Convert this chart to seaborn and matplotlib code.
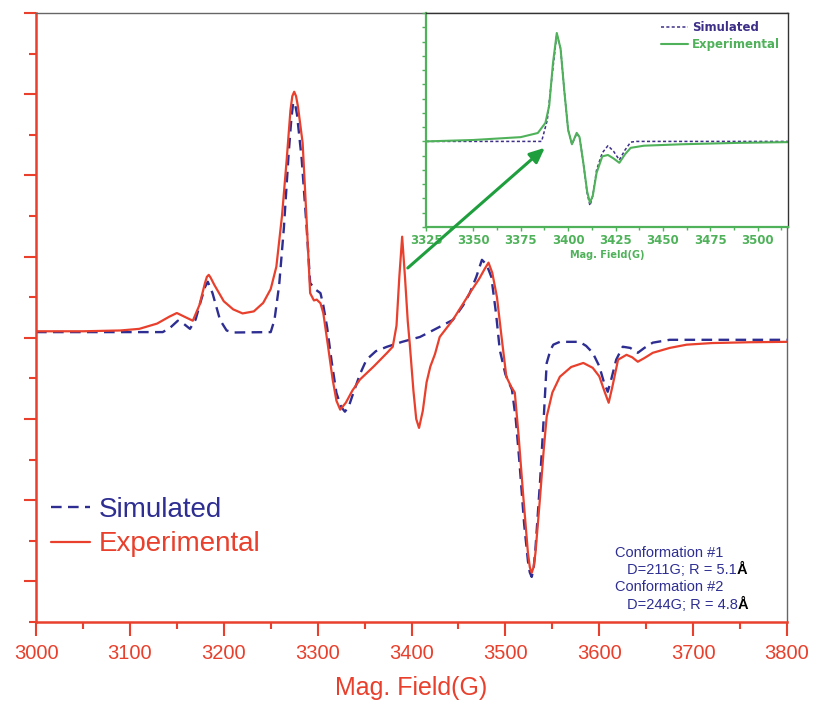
import matplotlib
matplotlib.use("Agg")
import matplotlib.pyplot as plt
import pandas as pd
import seaborn as sns
from matplotlib.ticker import MultipleLocator

# main spectrum, experimental (field in G, signal in arbitrary units)
field_exp = [3000, 3050, 3090, 3110, 3129, 3142, 3150, 3158, 3167, 3174, 3180, 3182,
             3184, 3186, 3190, 3200, 3210, 3220, 3232, 3242, 3250, 3256, 3262, 3267,
             3271, 3273, 3275, 3277, 3279, 3284, 3288, 3292, 3296, 3299, 3303, 3306,
             3311, 3316, 3320, 3324, 3330, 3337, 3345, 3360, 3374, 3380, 3384, 3387,
             3390, 3393, 3396, 3398, 3402, 3405, 3408, 3412, 3416, 3420, 3425, 3430,
             3444, 3462, 3472, 3478, 3482, 3486, 3491, 3496, 3501, 3506, 3510, 3514,
             3519, 3524, 3526, 3528, 3530, 3532, 3537, 3541, 3544, 3550, 3558, 3570,
             3583, 3593, 3600, 3606, 3610, 3614, 3620, 3629, 3635, 3641, 3648, 3657,
             3675, 3693, 3720, 3760, 3800]
signal_exp = [0.16, 0.16, 0.18, 0.22, 0.35, 0.52, 0.61, 0.52, 0.42, 0.8, 1.35, 1.5,
              1.55, 1.48, 1.3, 0.9, 0.7, 0.6, 0.65, 0.86, 1.2, 1.75, 3.0, 4.38,
              5.6, 5.95, 6.06, 5.95, 5.7, 4.8, 3.0, 1.1, 0.92, 0.94, 0.85, 0.61,
              -0.2, -1.03, -1.55, -1.77, -1.6, -1.3, -1.03, -0.7, -0.37, -0.22, 0.3, 1.5,
              2.49, 1.5, 0.4, -0.12, -1.3, -2.0, -2.22, -1.8, -1.1, -0.71, -0.4, 0.02,
              0.44, 1.1, 1.45, 1.7, 1.85, 1.6, 1.0, 0.0, -0.96, -1.2, -1.35, -2.4,
              -3.9, -5.3, -5.65, -5.79, -5.65, -5.3, -3.9, -2.7, -1.94, -1.35, -0.96, -0.72,
              -0.62, -0.74, -0.95, -1.35, -1.6, -1.2, -0.54, -0.42, -0.48, -0.59, -0.5, -0.37,
              -0.25, -0.17, -0.13, -0.11, -0.1]

# main spectrum, simulated
field_sim = [3000, 3050, 3100, 3135, 3143, 3151, 3157, 3164, 3170, 3175, 3180, 3183,
             3188, 3196, 3203, 3210, 3250, 3254, 3259, 3264, 3269, 3272, 3274, 3276,
             3278, 3283, 3288, 3292, 3297, 3303, 3306, 3310, 3315, 3320, 3325, 3329,
             3333, 3338, 3345, 3352, 3362, 3374, 3390, 3409, 3420, 3430, 3444, 3455,
             3462, 3469, 3475, 3480, 3485, 3490, 3494, 3500, 3507, 3511, 3515, 3520,
             3524, 3526, 3528, 3530, 3532, 3537, 3541, 3544, 3548, 3551, 3558, 3579,
             3586, 3593, 3600, 3605, 3609, 3613, 3618, 3625, 3633, 3641, 3648, 3657,
             3675, 3800]
signal_sim = [0.14, 0.14, 0.14, 0.14, 0.25, 0.42, 0.35, 0.22, 0.45, 0.86, 1.25, 1.38,
              1.1, 0.44, 0.18, 0.13, 0.14, 0.44, 1.3, 2.7, 4.5, 5.4, 5.8, 5.75,
              5.5, 4.4, 2.8, 1.35, 1.2, 1.1, 0.8, 0.27, -0.6, -1.36, -1.7, -1.82,
              -1.7, -1.36, -0.9, -0.54, -0.33, -0.22, -0.1, 0.02, 0.15, 0.27, 0.44, 0.8,
              1.1, 1.5, 1.92, 1.8, 1.5, 0.6, -0.3, -0.9, -1.28, -2.0, -3.08, -4.6,
              -5.5, -5.78, -5.89, -5.7, -5.2, -3.5, -1.9, -0.62, -0.3, -0.17, -0.1, -0.1,
              -0.2, -0.37, -0.7, -1.1, -1.33, -1.0, -0.54, -0.22, -0.25, -0.37, -0.25, -0.12,
              -0.05, -0.05]

# inset (zoom around 3400 G)
inset_field_exp = [3325, 3350, 3375, 3384, 3388, 3390, 3392, 3394, 3396, 3398, 3400,
                   3402, 3404.5, 3406, 3408, 3410, 3411.5, 3413, 3415, 3418, 3421,
                   3424, 3427, 3430, 3433, 3440, 3460, 3490, 3516]
inset_signal_exp = [0.0, 0.1, 0.3, 0.59, 1.3, 2.5, 5.5, 7.6, 6.5, 3.5, 0.8,
                    -0.2, 0.6, 0.3, -1.5, -3.5, -4.3, -3.8, -2.2, -1.05, -0.95,
                    -1.2, -1.5, -0.9, -0.45, -0.3, -0.2, -0.1, -0.05]
inset_field_sim = [3325, 3386, 3389, 3391, 3394, 3396, 3398, 3400, 3402, 3404.5, 3406,
                   3408, 3410, 3411.5, 3413, 3415, 3418, 3421, 3424, 3427, 3430,
                   3433, 3436, 3516]
inset_signal_sim = [0.0, 0.0, 1.5, 4.0, 7.5, 6.5, 3.5, 0.8, -0.2, 0.55, 0.3,
                    -1.5, -3.6, -4.5, -3.8, -2.0, -0.8, -0.3, -0.7, -1.3, -0.6,
                    -0.05, 0.0, 0.0]

main_ticks = [3000, 3100, 3200, 3300, 3400, 3500, 3600, 3700, 3800]
inset_ticks = [3325, 3350, 3375, 3400, 3425, 3450, 3475, 3500]

RED = "#e8402c"
BLUE = "#2e2e92"
GREEN = "#4fb25a"
PURPLE = "#3d2f88"
ARROW = "#1f9e3e"

sns.set_style("ticks")
plt.rcParams['font.family'] = ['Liberation Sans', 'DejaVu Sans']

df_exp = pd.DataFrame({"field": field_exp, "signal": signal_exp})
df_sim = pd.DataFrame({"field": field_sim, "signal": signal_sim})
di_exp = pd.DataFrame({"field": inset_field_exp, "signal": inset_signal_exp})
di_sim = pd.DataFrame({"field": inset_field_sim, "signal": inset_signal_sim})

fig = plt.figure(figsize=(8.15, 7.02), dpi=100)
ax = fig.add_axes([0.0442, 0.114, 0.9215, 0.8675])

sns.lineplot(data=df_sim, x="field", y="signal", ax=ax, color=BLUE, lw=1.7,
             linestyle=(0, (4.5, 2.7)), label="Simulated", sort=False, estimator=None)
sns.lineplot(data=df_exp, x="field", y="signal", ax=ax, color=RED, lw=1.6,
             label="Experimental", sort=False, estimator=None)

ax.set_xlim(3000, 3800)
ax.set_ylim(-7, 8)
ax.set_xticks(main_ticks)
ax.xaxis.set_minor_locator(MultipleLocator(50))
ax.yaxis.set_major_locator(MultipleLocator(2))
ax.yaxis.set_minor_locator(MultipleLocator(1))
ax.set_yticklabels([])
ax.set_ylabel("")
ax.set_xlabel("Mag. Field(G)", fontsize=18, color=RED, labelpad=9)
ax.tick_params(axis="x", which="major", direction="out", length=10, width=1.5,
               color=RED, labelcolor=RED, labelsize=14.5, pad=6)
ax.tick_params(axis="x", which="minor", direction="out", length=5, width=1.5, color=RED)
ax.tick_params(axis="y", which="major", direction="out", length=9, width=1.5, color=RED)
ax.tick_params(axis="y", which="minor", direction="out", length=5, width=1.5, color=RED)
for side in ["left", "bottom"]:
    ax.spines[side].set_color(RED)
    ax.spines[side].set_linewidth(1.8)
for side in ["top", "right"]:
    ax.spines[side].set_visible(True)
    ax.spines[side].set_color("#666666")
    ax.spines[side].set_linewidth(1.0)

leg = ax.legend(loc="upper left", bbox_to_anchor=(0.02, 0.205), frameon=False,
                fontsize=20, handlelength=1.4, handletextpad=0.3, labelspacing=0.3,
                borderaxespad=0, borderpad=0, labelcolor=[BLUE, RED])

# conformation notes
notes = [("Conformation #1", None, 0.771, 0.113),
         ("D=211G; R = 5.1", "Å", 0.787, 0.085),
         ("Conformation #2", None, 0.771, 0.057),
         ("D=244G; R = 4.8", "Å", 0.787, 0.028)]
for txt, sym, xx, yy in notes:
    t = ax.text(xx, yy, txt, transform=ax.transAxes, fontsize=10.5, color=BLUE,
                va="center", ha="left")
    if sym:
        ax.annotate(sym, xy=(1, 0), xycoords=t, fontsize=10.5, color="black",
                    va="bottom", ha="left", fontweight="bold")

# inset
ax_in = fig.add_axes([0.5227, 0.6766, 0.4442, 0.3049])
ax_in.set_facecolor("white")
sns.lineplot(data=di_sim, x="field", y="signal", ax=ax_in, color=PURPLE, lw=1.1,
             linestyle=(0, (2, 1.5)), label="Simulated", sort=False, estimator=None)
sns.lineplot(data=di_exp, x="field", y="signal", ax=ax_in, color=GREEN, lw=1.5,
             label="Experimental", sort=False, estimator=None)
ax_in.set_xlim(3325, 3516)
ax_in.set_ylim(-6, 9)
ax_in.set_xticks(inset_ticks)
ax_in.xaxis.set_minor_locator(MultipleLocator(12.5))
ax_in.yaxis.set_major_locator(MultipleLocator(1))
ax_in.set_yticklabels([])
ax_in.set_ylabel("")
ax_in.set_xlabel("Mag. Field(G)", fontsize=7, color=GREEN, fontweight="bold",
                 family="DejaVu Sans", labelpad=2)
ax_in.tick_params(axis="x", which="major", direction="out", length=3, width=1.0,
                  color=GREEN, labelcolor=GREEN, labelsize=8.5, pad=2)
for lab in ax_in.get_xticklabels():
    lab.set_fontweight("bold")
    lab.set_family("DejaVu Sans")
ax_in.tick_params(axis="x", which="minor", direction="out", length=2, width=1.0, color=GREEN)
ax_in.tick_params(axis="y", which="major", direction="out", length=3, width=1.0, color=GREEN)
for side in ["left", "bottom"]:
    ax_in.spines[side].set_color(GREEN)
    ax_in.spines[side].set_linewidth(1.6)
for side in ["top", "right"]:
    ax_in.spines[side].set_visible(True)
    ax_in.spines[side].set_color("#333333")
    ax_in.spines[side].set_linewidth(1.0)
leg_in = ax_in.legend(loc="upper right", frameon=False,
                      handlelength=2.3, handletextpad=0.3, labelspacing=0.35,
                      borderaxespad=0.3, labelcolor=[PURPLE, GREEN],
                      prop={"family": "DejaVu Sans", "weight": "bold", "size": 8.5})

# arrow from the sharp 3390 G line up to the inset
ax_in.annotate("", xy=(3542, 4.68), xycoords=ax.transData,
               xytext=(3396, 1.72), textcoords=ax.transData,
               arrowprops=dict(arrowstyle="-|>,head_length=0.9,head_width=0.4",
                               color=ARROW, lw=2.2, shrinkA=0, shrinkB=0),
               annotation_clip=False)

fig.savefig("out.png", dpi=100)
